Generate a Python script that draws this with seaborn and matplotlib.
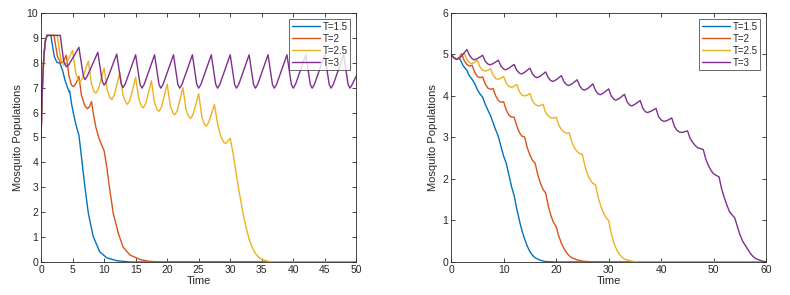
import numpy as np
import pandas as pd
import matplotlib
matplotlib.use("Agg")
import matplotlib.pyplot as plt
import seaborn as sns

sns.set_style("ticks")
plt.rcParams['font.family'] = ['Liberation Sans', 'DejaVu Sans']

periods = ["T=1.5", "T=2", "T=2.5", "T=3"]
colors = ["#0072BD", "#D95319", "#EDB120", "#7E2F8E"]

# ---- left panel: (time, population) points ----
start_left = [(0, 5.0), (0.1, 6.1), (0.25, 7.3), (0.45, 8.3), (0.7, 8.9), (0.95, 9.1)]

left_blue = start_left + [
    (1.55, 9.1), (1.8, 8.7), (2.1, 8.25), (2.5, 8.02), (3.0, 7.98), (3.4, 7.7), (3.8, 7.3),
    (4.2, 7.0), (4.45, 6.84), (4.55, 6.86), (4.8, 6.4), (5.1, 6.0), (5.5, 5.55), (5.9, 5.17),
    (6.0, 5.1), (6.4, 4.23), (6.95, 3.02), (7.5, 1.95), (8.27, 1.02), (9.3, 0.41),
    (10.4, 0.17), (12, 0.05), (14, 0.0), (50, 0.0)]

left_red = start_left + [
    (2.05, 9.1), (2.3, 8.7), (2.6, 8.25), (3.1, 7.98), (3.5, 8.05), (4.0, 8.3),
    (4.4, 7.5), (4.8, 7.12), (5.1, 7.04), (5.5, 7.15), (6.0, 7.45),
    (6.4, 6.7), (6.9, 6.3), (7.35, 6.15), (7.7, 6.25), (8.0, 6.44),
    (8.3, 5.95), (8.7, 5.4), (9.2, 4.95), (9.6, 4.7), (10.0, 4.47),
    (10.4, 3.85), (10.9, 2.9), (11.45, 1.95), (12.25, 1.15), (13.0, 0.6),
    (14.1, 0.28), (15.7, 0.1), (17, 0.03), (19, 0.0), (50, 0.0)]

left_yellow = start_left + [
    (2.55, 9.1), (2.8, 8.7), (3.1, 8.15), (3.6, 7.91), (4.0, 7.98), (5.0, 8.5),
    (5.5, 7.6), (5.9, 7.3), (6.2, 7.23), (6.6, 7.4), (7.5, 8.07),
    (8.0, 7.15), (8.4, 6.85), (8.7, 6.78), (9.1, 6.95), (10.0, 7.79),
    (10.5, 6.9), (10.9, 6.6), (11.2, 6.52), (11.6, 6.7), (12.5, 7.59),
    (13.0, 6.7), (13.4, 6.42), (13.7, 6.33), (14.1, 6.5), (15.0, 7.42),
    (15.5, 6.55), (15.9, 6.27), (16.2, 6.19), (16.6, 6.36), (17.5, 7.28),
    (18.0, 6.4), (18.4, 6.12), (18.7, 6.05), (19.1, 6.22), (20.0, 7.15),
    (20.5, 6.27), (20.9, 5.99), (21.2, 5.91), (21.6, 6.08), (22.5, 7.0),
    (23.0, 6.1), (23.4, 5.84), (23.7, 5.76), (24.1, 5.92), (25.0, 6.76),
    (25.5, 5.82), (25.9, 5.53), (26.2, 5.45), (26.6, 5.62), (27.5, 6.32),
    (28.0, 5.55), (28.5, 5.05), (29.0, 4.8), (29.3, 4.76), (30.0, 4.97),
    (30.5, 4.3), (31.0, 3.45), (31.5, 2.7), (32.0, 2.0), (32.5, 1.4), (33.0, 0.92),
    (33.5, 0.58), (34.0, 0.34), (34.5, 0.19), (35.0, 0.1), (36.0, 0.03), (37.5, 0.0),
    (50, 0.0)]

left_purple = start_left + [
    (3.05, 9.1), (3.3, 8.6), (3.6, 8.05), (4.0, 7.84), (4.4, 7.92), (6.0, 8.62),
    (6.7, 7.48), (6.95, 7.32), (7.3, 7.45), (9.0, 8.42),
    (9.7, 7.26), (10.0, 7.1), (10.35, 7.24), (12.0, 8.35),
    (12.7, 7.16), (13.0, 7.0), (13.35, 7.15), (15.0, 8.32),
    (15.7, 7.13), (16.0, 6.98), (16.35, 7.13), (18.0, 8.32),
    (18.7, 7.13), (19.0, 6.98), (19.35, 7.13), (21.0, 8.32),
    (21.7, 7.13), (22.0, 6.98), (22.35, 7.13), (24.0, 8.32),
    (24.7, 7.13), (25.0, 6.98), (25.35, 7.13), (27.0, 8.32),
    (27.7, 7.13), (28.0, 6.98), (28.35, 7.13), (30.0, 8.32),
    (30.7, 7.13), (31.0, 6.98), (31.35, 7.13), (33.0, 8.32),
    (33.7, 7.13), (34.0, 6.98), (34.35, 7.13), (36.0, 8.32),
    (36.7, 7.13), (37.0, 6.98), (37.35, 7.13), (39.0, 8.32),
    (39.7, 7.13), (40.0, 6.98), (40.35, 7.13), (42.0, 8.32),
    (42.7, 7.13), (43.0, 6.98), (43.35, 7.13), (45.0, 8.32),
    (45.7, 7.13), (46.0, 6.98), (46.35, 7.13), (48.0, 8.32),
    (48.7, 7.13), (49.0, 6.98), (49.35, 7.13), (50.0, 7.47)]

# ---- right panel ----
right_blue = [
    (0, 5.0), (0.5, 4.93), (1.0, 4.89), (1.5, 4.92), (1.8, 4.86), (2.3, 4.73), (3.0, 4.62),
    (3.4, 4.5), (4.0, 4.4), (4.5, 4.3), (5.0, 4.15), (5.5, 4.05), (6.0, 3.97), (6.5, 3.8),
    (7.0, 3.66), (7.5, 3.53), (8.0, 3.35), (8.5, 3.18), (9.0, 3.02), (9.5, 2.78),
    (10.0, 2.55), (10.5, 2.38), (11.0, 2.1), (11.5, 1.82), (12.0, 1.6), (12.5, 1.28),
    (13.0, 1.0), (13.5, 0.75), (14.0, 0.55), (14.5, 0.38), (15.0, 0.25), (15.5, 0.16),
    (16.0, 0.1), (17.0, 0.04), (18.0, 0.01), (20, 0.0), (60, 0.0)]

right_red = [
    (0, 5.0), (0.5, 4.93), (1.0, 4.89), (1.5, 4.92), (2.0, 5.02),
    (2.5, 4.85), (3.0, 4.76), (3.5, 4.72), (4.0, 4.74),
    (4.5, 4.57), (5.0, 4.47), (5.5, 4.44), (6.0, 4.46),
    (6.5, 4.29), (7.0, 4.19), (7.5, 4.16), (8.0, 4.18),
    (8.5, 4.0), (9.0, 3.89), (9.5, 3.85), (10.0, 3.86),
    (10.5, 3.66), (11.0, 3.54), (11.5, 3.49), (12.0, 3.49),
    (12.5, 3.28), (13.0, 3.12), (13.5, 3.03), (14.0, 3.01),
    (14.5, 2.75), (15.0, 2.58), (15.5, 2.45), (16.0, 2.38),
    (16.5, 2.1), (17.0, 1.9), (17.5, 1.75), (18.0, 1.66),
    (18.5, 1.35), (19.0, 1.12), (19.5, 0.95), (20.0, 0.85),
    (20.5, 0.62), (21.0, 0.45), (21.5, 0.32), (22.0, 0.22), (22.5, 0.15), (23.0, 0.1),
    (24.0, 0.05), (25.0, 0.02), (27.0, 0.0), (60, 0.0)]

right_yellow = [
    (0, 5.0), (0.5, 4.93), (1.0, 4.89), (1.5, 4.91), (2.0, 4.97), (2.5, 5.04),
    (3.0, 4.88), (3.5, 4.8), (4.0, 4.78), (4.5, 4.81), (5.0, 4.86),
    (5.5, 4.7), (6.0, 4.62), (6.5, 4.6), (7.0, 4.62), (7.5, 4.66),
    (8.0, 4.5), (8.5, 4.42), (9.0, 4.4), (9.5, 4.43), (10.0, 4.47),
    (10.5, 4.31), (11.0, 4.23), (11.5, 4.21), (12.0, 4.23), (12.5, 4.28),
    (13.0, 4.1), (13.5, 4.02), (14.0, 4.0), (14.5, 4.02), (15.0, 4.06),
    (15.5, 3.88), (16.0, 3.8), (16.5, 3.76), (17.0, 3.77), (17.5, 3.8),
    (18.0, 3.6), (18.5, 3.52), (19.0, 3.47), (19.5, 3.47), (20.0, 3.49),
    (20.5, 3.3), (21.0, 3.19), (21.5, 3.13), (22.0, 3.1), (22.5, 3.11),
    (23.0, 2.88), (23.5, 2.75), (24.0, 2.66), (24.5, 2.61), (25.0, 2.59),
    (25.5, 2.3), (26.0, 2.1), (26.5, 1.97), (27.0, 1.89), (27.5, 1.86),
    (28.0, 1.55), (28.5, 1.35), (29.0, 1.18), (29.5, 1.06), (30.0, 1.0),
    (30.5, 0.68), (31.0, 0.45), (31.5, 0.3), (32.0, 0.19), (32.5, 0.12), (33.0, 0.07),
    (34.0, 0.03), (35.5, 0.0), (60, 0.0)]

right_purple = [
    (0, 5.0), (0.5, 4.92), (1.0, 4.88), (1.5, 4.9), (2.0, 4.96), (2.5, 5.04), (3.0, 5.12),
    (3.5, 4.98), (4.0, 4.9), (4.4, 4.87), (5.0, 4.9), (6.0, 4.98),
    (6.5, 4.84), (7.0, 4.77), (7.4, 4.75), (8.0, 4.78), (9.0, 4.86),
    (9.5, 4.72), (10.0, 4.65), (10.4, 4.63), (11.0, 4.67), (12.0, 4.76),
    (12.5, 4.62), (13.0, 4.55), (13.4, 4.53), (14.0, 4.57), (15.0, 4.67),
    (15.5, 4.53), (16.0, 4.46), (16.4, 4.44), (17.0, 4.48), (18.0, 4.58),
    (18.5, 4.44), (19.0, 4.37), (19.4, 4.35), (20.0, 4.39), (21.0, 4.49),
    (21.5, 4.34), (22.0, 4.27), (22.4, 4.25), (23.0, 4.29), (24.0, 4.39),
    (24.5, 4.24), (25.0, 4.16), (25.4, 4.14), (26.0, 4.18), (27.0, 4.29),
    (27.5, 4.13), (28.0, 4.05), (28.4, 4.03), (29.0, 4.07), (30.0, 4.17),
    (30.5, 4.0), (31.0, 3.92), (31.4, 3.9), (32.0, 3.94), (33.0, 4.04),
    (33.5, 3.86), (34.0, 3.78), (34.4, 3.76), (35.0, 3.8), (36.0, 3.89),
    (36.5, 3.7), (37.0, 3.62), (37.4, 3.6), (38.0, 3.63), (39.0, 3.7),
    (39.5, 3.5), (40.0, 3.42), (40.5, 3.39), (41.0, 3.4), (42.0, 3.47),
    (42.5, 3.27), (43.0, 3.17), (43.5, 3.13), (44.0, 3.12), (45.0, 3.16),
    (45.5, 2.98), (46.0, 2.88), (46.5, 2.8), (47.0, 2.75), (48.0, 2.71),
    (48.5, 2.47), (49.0, 2.32), (49.5, 2.2), (50.0, 2.12), (51.0, 2.05),
    (51.5, 1.76), (52.0, 1.55), (52.5, 1.37), (53.0, 1.21), (54.0, 1.06),
    (54.5, 0.85), (55.0, 0.65), (55.5, 0.5), (56.0, 0.4), (56.5, 0.3), (57.0, 0.2),
    (57.5, 0.13), (58.0, 0.08), (59.0, 0.03), (60.0, 0.0)]


def to_frame(curves):
    rows = []
    for lab, pts in zip(periods, curves):
        for t, y in pts:
            rows.append({"Time": t, "pop": y, "T": lab})
    return pd.DataFrame(rows)


left_df = to_frame([left_blue, left_red, left_yellow, left_purple])
right_df = to_frame([right_blue, right_red, right_yellow, right_purple])

fig = plt.figure(figsize=(7.9, 2.95), dpi=100)
ax1 = fig.add_axes([0.052, 0.112, 0.399, 0.844])
ax2 = fig.add_axes([0.571, 0.112, 0.399, 0.844])

axcol = "#262626"
for ax, df, xmax, xstep, ymax in [(ax1, left_df, 50, 5, 10), (ax2, right_df, 60, 10, 6)]:
    sns.lineplot(data=df, x="Time", y="pop", hue="T", palette=colors, hue_order=periods,
                 estimator=None, sort=False, linewidth=1.0, ax=ax)
    ax.set_xlim(0, xmax)
    ax.set_ylim(0, ymax)
    ax.set_xticks(np.arange(0, xmax + 1, xstep))
    ax.set_yticks(np.arange(0, ymax + 1, 1))
    ax.tick_params(direction="in", top=True, right=True, length=3, width=0.6,
                   labelsize=7.5, colors=axcol, pad=2)
    for s in ax.spines.values():
        s.set_visible(True)
        s.set_linewidth(0.6)
        s.set_color(axcol)
    ax.set_xlabel("Time", fontsize=8, color=axcol, labelpad=1)
    ax.set_ylabel("Mosquito Populations", fontsize=8, color=axcol, labelpad=3)
    leg = ax.legend(loc="upper right", fontsize=7, frameon=True, fancybox=False,
                    edgecolor="#262626", handlelength=2.8, borderpad=0.3,
                    labelspacing=0.2, handletextpad=0.3, borderaxespad=0.6)
    leg.get_frame().set_linewidth(0.6)

fig.savefig("out.png", dpi=100)
